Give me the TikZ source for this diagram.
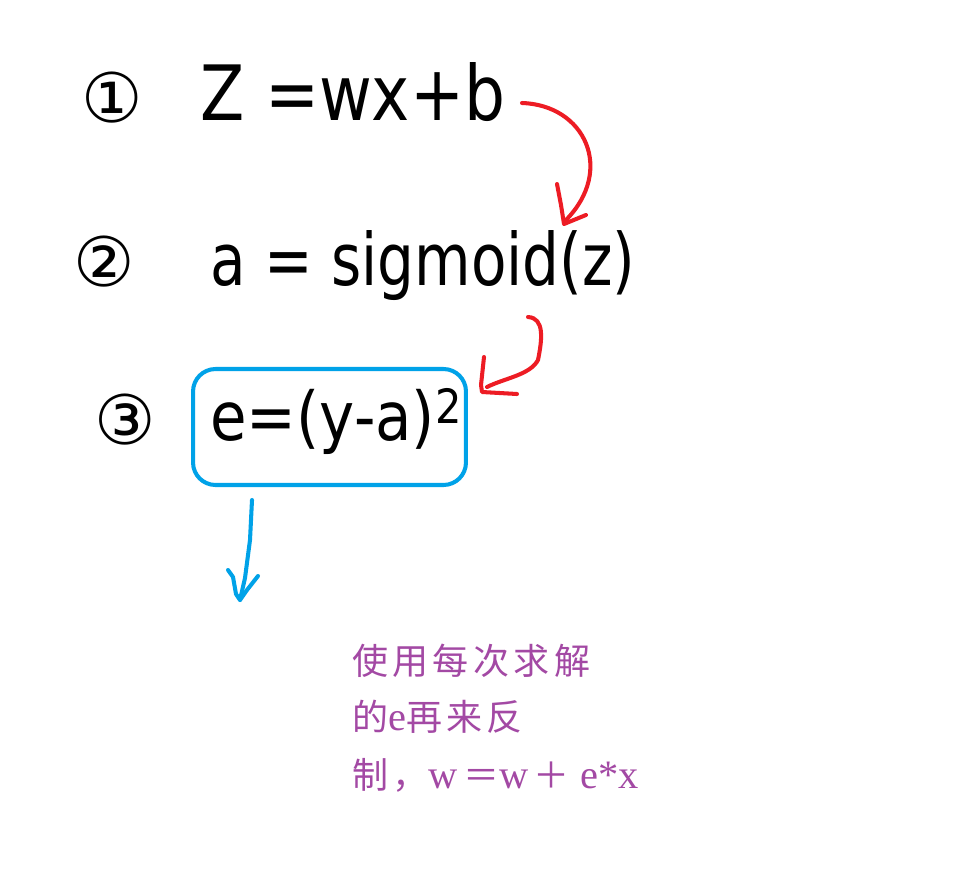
\documentclass[tikz,border=0pt]{standalone}
\usepackage{fontspec}
\setmainfont{DejaVu Sans}
\newfontfamily\hand{DejaVu Sans}
\newfontfamily\cjk[LetterSpace=12]{Noto Sans CJK SC}
\newfontfamily\lser{Liberation Serif}
\definecolor{pred}{RGB}{237,28,36}
\definecolor{pblue}{RGB}{0,162,232}
\definecolor{ppurple}{RGB}{163,73,164}
\newcommand\latn[1]{{\lser\fontsize{23pt}{25pt}\selectfont #1}}
\begin{document}
\begin{tikzpicture}[x=0.02cm,y=-0.02cm,
  stroke/.style={line width=2.3pt,line cap=round,line join=round},
  redink/.style={stroke,draw=pred},
  blueink/.style={stroke,draw=pblue},
  numtxt/.style={inner sep=0pt,font=\hand\fontsize{39pt}{44pt}\selectfont},
  eqtxt/.style={inner sep=0pt,anchor=base west},
  note/.style={inner sep=0pt,anchor=west,text=ppurple,font=\cjk\fontsize{20.5pt}{25pt}\selectfont}]
\useasboundingbox (0,0) rectangle (970,886);
\fill[white] (0,0) rectangle (970,886);

% circled step numbers
\node[numtxt] (c1) at (112,98) {①};
\node[numtxt] (c2) at (104,262) {②};
\node[numtxt] (c3) at (125,420) {③};

% formulas
\node[eqtxt] (eq1) at (200,120) {\resizebox{6.1cm}{1.16cm}{\hand\fontsize{36pt}{40pt}\selectfont Z =wx+b}};
\node[eqtxt] (eq2) at (210,285) {\resizebox{8.5cm}{1.1cm}{\hand\fontsize{33pt}{38pt}\selectfont a = sigmoid(z)}};
\node[eqtxt] (eq3) at (210,440) {\resizebox{5.04cm}{1.04cm}{\hand\fontsize{36pt}{40pt}\selectfont e=(y-a)\textsuperscript{2}}};

% blue box round step 3
\node[blueink,rounded corners=0.45cm,minimum width=5.46cm,minimum height=2.32cm,inner sep=0pt] (box3) at (329.5,427) {};

% red arrow 1 -> 2
\coordinate (r1s) at (522,103);
\coordinate (r1e) at (566,220);
\coordinate (r1t) at (564,224);
\draw[redink] (r1s) .. controls (585,105) and (615,170) .. (r1e);
\draw[redink] (557,184) -- (561,205) -- (r1t) -- (586,215);

% red arrow 2 -> 3
\coordinate (r2s) at (528,317);
\coordinate (r2e) at (487,387);
\coordinate (r2t) at (482,392);
\draw[redink] (r2s) .. controls (545,318) and (542,340) .. (538,360) .. controls (530,375) and (505,378) .. (r2e);
\draw[redink] (484,357) -- (481,385) -- (r2t) -- (517,394);

% blue arrow down from the box
\coordinate (bs) at (252,500);
\coordinate (bt) at (240,600);
\draw[blueink] (bs) -- (250,540) -- (245,578) -- (bt);
\draw[blueink] (228,570) -- (233,577) -- (236,594) -- (bt) -- (247,590) -- (258,576);

% purple note
\node[note] (n1) at (352,661) {使用每次求解};
\node[note] (n2) at (352,717) {的\latn{e}再来反};
\node[note] (n3) at (352,775) {制，\latn{w}\hspace{3pt}＝\latn{w}\hspace{3pt}＋\hspace{6pt}\latn{e*x}};
\end{tikzpicture}
\end{document}
